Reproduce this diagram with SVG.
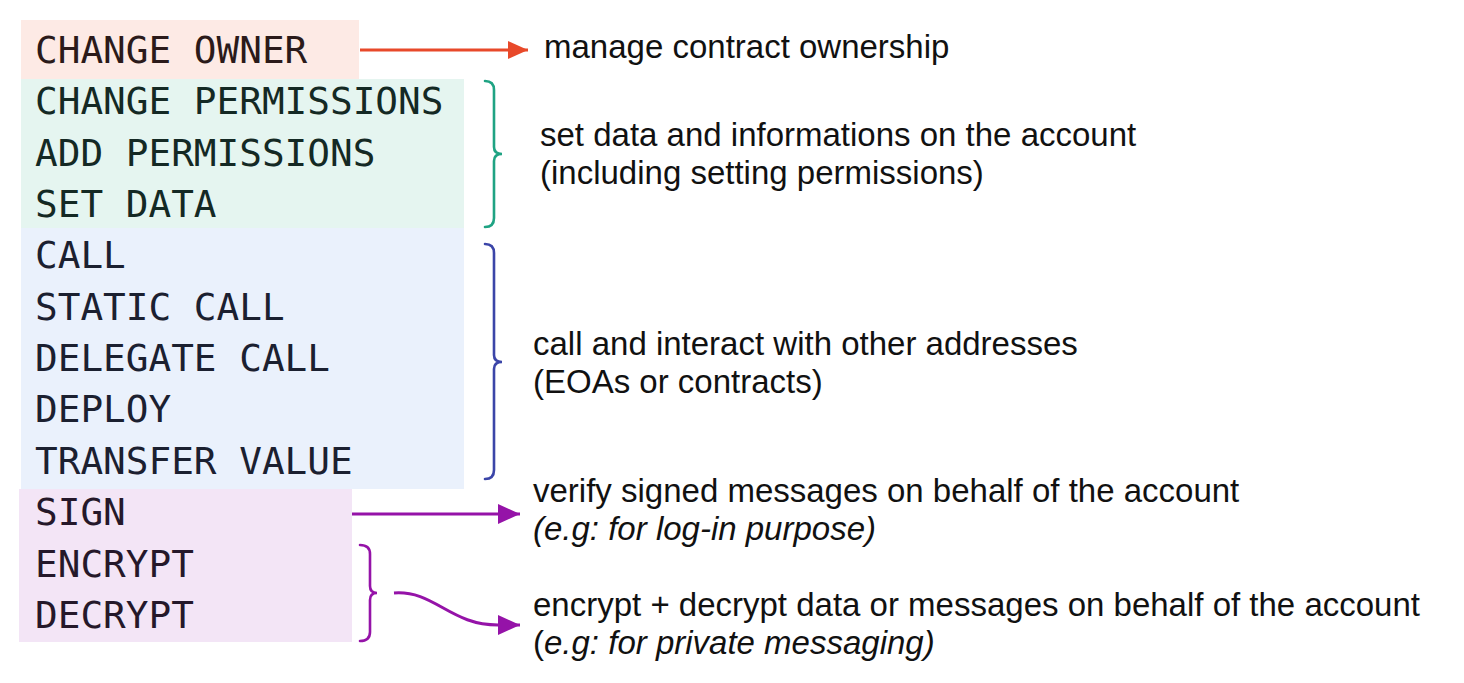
<svg xmlns="http://www.w3.org/2000/svg" width="1464" height="683" viewBox="0 0 1464 683">
<style>
.mono{font-family:"DejaVu Sans Mono","Liberation Mono",monospace;font-size:37.7px}
.desc{font-family:"Liberation Sans",Arial,sans-serif;font-size:33px;fill:#111}
.it{font-style:italic}
.brace{fill:none;stroke-width:2.6;stroke-linecap:round}
</style>
<defs>
<marker id="ahRed" markerUnits="userSpaceOnUse" markerWidth="22" markerHeight="20" refX="20" refY="9" orient="auto"><path d="M0,0 L20,9 L0,18 Z" fill="#e8492a"/></marker>
<marker id="ahPur" markerUnits="userSpaceOnUse" markerWidth="24" markerHeight="22" refX="22" refY="10" orient="auto"><path d="M0,0 L22,10 L0,20 Z" fill="#9513a8"/></marker>
</defs>
<rect width="1464" height="683" fill="#ffffff"/>
<g id="owner">
<rect x="21" y="20" width="338" height="59" fill="#fdeae5"/>
<text class="mono" x="35" y="63" fill="#2b1a1a">CHANGE OWNER</text>
</g>
<g id="data">
<rect x="21" y="79" width="443" height="149" fill="#e5f5f0"/>
<text class="mono" fill="#142924"><tspan x="35" y="114">CHANGE PERMISSIONS</tspan><tspan x="35" y="165.5">ADD PERMISSIONS</tspan><tspan x="35" y="217">SET DATA</tspan></text>
</g>
<g id="calls">
<rect x="21" y="228" width="443" height="261" fill="#eaf1fc"/>
<text class="mono" fill="#1b2030"><tspan x="35" y="268">CALL</tspan><tspan x="35" y="319.5">STATIC CALL</tspan><tspan x="35" y="371">DELEGATE CALL</tspan><tspan x="35" y="422">DEPLOY</tspan><tspan x="35" y="473.5">TRANSFER VALUE</tspan></text>
</g>
<g id="crypto">
<rect x="19" y="489" width="333" height="153" fill="#f3e5f6"/>
<text class="mono" fill="#25182a"><tspan x="35" y="525">SIGN</tspan><tspan x="35" y="576.5">ENCRYPT</tspan><tspan x="35" y="628">DECRYPT</tspan></text>
</g>
<g id="connectors">
<line x1="360" y1="50" x2="528" y2="50" stroke="#e8492a" stroke-width="3" marker-end="url(#ahRed)"/>
<path class="brace" stroke="#1fa383" d="M485,81 Q494,81 494,90 L494,147 Q494,154 502,154 Q494,154 494,161 L494,218 Q494,227 485,227"/>
<path class="brace" stroke="#3b45a8" d="M485,244 Q494,244 494,253 L494,355 Q494,362 502,362 Q494,362 494,369 L494,470 Q494,479 485,479"/>
<line x1="352" y1="514" x2="520" y2="514" stroke="#9513a8" stroke-width="3" marker-end="url(#ahPur)"/>
<path class="brace" stroke="#9513a8" d="M360,545 Q370,545 370,554 L370,586 Q370,593 377,593 Q370,593 370,600 L370,632 Q370,641 360,641"/>
<path d="M394,593 C435,590 450,626 500,625 L520,625" fill="none" stroke="#9513a8" stroke-width="3" marker-end="url(#ahPur)"/>
</g>
<g id="labels">
<text class="desc" x="544" y="58">manage contract ownership</text>
<text class="desc" x="540" y="146">set data and informations on the account</text>
<text class="desc" x="540" y="184">(including setting permissions)</text>
<text class="desc" x="533" y="355">call and interact with other addresses</text>
<text class="desc" x="533" y="393">(EOAs or contracts)</text>
<text class="desc" x="533" y="502">verify signed messages on behalf of the account</text>
<text class="desc it" x="533" y="540">(e.g: for log-in purpose)</text>
<text class="desc" x="533" y="616">encrypt + decrypt data or messages on behalf of the account</text>
<text class="desc" x="533" y="654">(<tspan class="it">e.g: for private messaging)</tspan></text>
</g>
</svg>
